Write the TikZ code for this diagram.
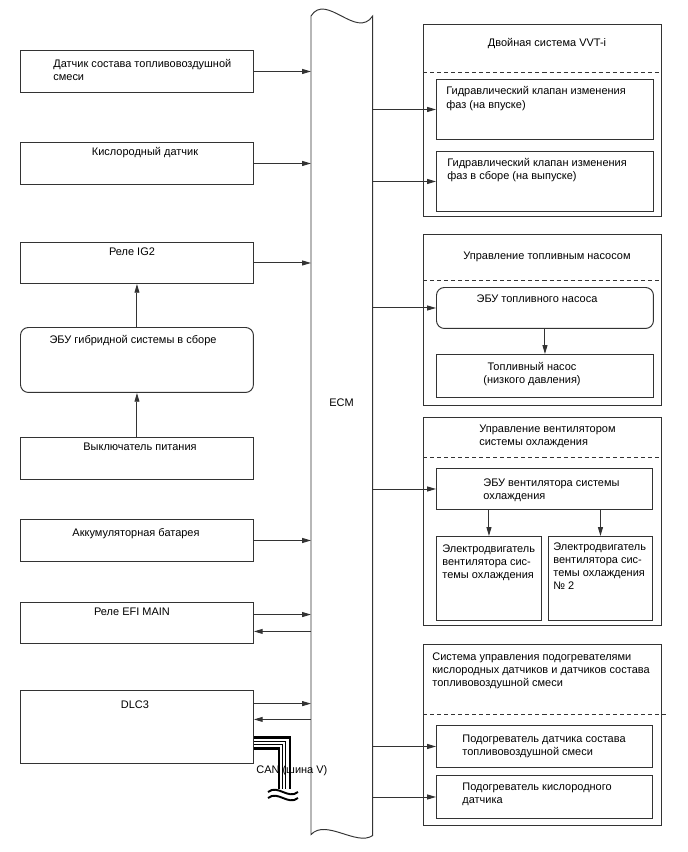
\documentclass[tikz,border=0pt]{standalone}
\usepackage{fontspec}
\setmainfont{Liberation Sans}
\usetikzlibrary{positioning, arrows.meta, calc}

\begin{document}
\begin{tikzpicture}[
    x=0.02cm, y=-0.02cm,
    font=\fontsize{6.25}{7.4}\selectfont,
    line/.style={draw=black!80, line width=0.55pt},
    box/.style={line, rectangle, inner sep=0pt, anchor=north west},
    rbox/.style={box, rounded corners=4.5pt},
    sep/.style={draw=black!80, line width=0.55pt, dash pattern=on 2.3pt off 1.7pt},
    txt/.style={inner sep=0pt, align=left, anchor=base west},
    ctxt/.style={inner sep=0pt, align=center, anchor=base},
    arr/.style={line, -{Triangle[length=5pt, width=2.8pt]}},
    can/.style={draw=black, line width=1.4pt},
    canthin/.style={draw=black, line width=0.55pt},
]
\useasboundingbox (0,0) rectangle (688,852);

% ECM column with wavy ends
\node[inner sep=0pt, minimum width=1.22cm, minimum height=16.36cm, anchor=north west] (ecm) at (311,16) {};
\draw[line] (ecm.north west) .. controls +(15,-24) and +(-16,24) .. (ecm.north east)
    -- ([yshift=-0.02cm]ecm.south east) .. controls +(-16,11) and +(15,-16) .. (ecm.south west) -- cycle;
\node[ctxt] (ecm-t) at (341.5,406) {ECM};

% Inputs on the left
\node[box, minimum width=4.66cm, minimum height=0.84cm] (afs) at (20,50) {};
\node[box, minimum width=4.66cm, minimum height=0.84cm] (o2s) at (20,142) {};
\node[box, minimum width=4.66cm, minimum height=0.82cm] (ig2) at (20,242) {};
\node[rbox, minimum width=4.66cm, minimum height=1.30cm] (hvecu) at (20,327) {};
\node[box, minimum width=4.66cm, minimum height=0.84cm] (pwrsw) at (20,437) {};
\node[box, minimum width=4.66cm, minimum height=0.84cm] (batt) at (20,519) {};
\node[box, minimum width=4.66cm, minimum height=0.82cm] (efi) at (20,602) {};
\node[box, minimum width=4.66cm, minimum height=1.46cm] (dlc) at (20,690) {};

% (multi-line texts are placed by the baseline of their last line)
\node[txt] (afs-t) at (53,80) {Датчик состава топливовоздушной\\смеси};
\node[ctxt] (o2s-t) at (145,155) {Кислородный датчик};
\node[ctxt] (ig2-t) at (132,255) {Реле IG2};
\node[ctxt] (hvecu-t) at (133,343) {ЭБУ гибридной системы в сборе};
\node[ctxt] (pwrsw-t) at (140,450) {Выключатель питания};
\node[ctxt] (batt-t) at (136,536) {Аккумуляторная батарея};
\node[ctxt] (efi-t) at (132,615) {Реле EFI MAIN};
\node[ctxt] (dlc-t) at (135,708) {DLC3};
\node[txt] (can-t) at (256,773) {CAN (шина V)};

% Outputs on the right
\node[box, minimum width=4.76cm, minimum height=3.84cm] (vvt) at (423,24) {};
\node[box, minimum width=4.76cm, minimum height=3.42cm] (fp) at (423,234) {};
\node[box, minimum width=4.76cm, minimum height=4.16cm] (fan) at (423,417) {};
\node[box, minimum width=4.76cm, minimum height=3.62cm] (heat) at (423,644) {};

\draw[sep] (vvt.north west) ++(0,48) -- ++(238,0);
\draw[sep] (fp.north west) ++(0,46) -- ++(238,0);
\draw[sep] (fan.north west) ++(0,40) -- ++(238,0);
\draw[sep] (heat.north west) ++(0,70) -- ++(244,0);

\node[box, minimum width=4.34cm, minimum height=1.20cm] (vvtin) at (436,79) {};
\node[box, minimum width=4.34cm, minimum height=1.20cm] (vvtex) at (436,151) {};
\node[rbox, minimum width=4.34cm, minimum height=0.82cm] (fpecu) at (436,287) {};
\node[box, minimum width=4.34cm, minimum height=0.86cm] (fpump) at (436,354) {};
\node[box, minimum width=4.32cm, minimum height=0.82cm] (fanecu) at (436,468) {};
\node[box, minimum width=2.10cm, minimum height=1.68cm] (motor1) at (436,536) {};
\node[box, minimum width=2.08cm, minimum height=1.68cm] (motor2) at (548,536) {};
\node[box, minimum width=4.32cm, minimum height=0.84cm] (heat1) at (436,725) {};
\node[box, minimum width=4.32cm, minimum height=0.86cm] (heat2) at (436,775) {};

\node[ctxt] (vvt-t) at (547,46) {Двойная система VVT-i};
\node[txt] (vvtin-t) at (446,108) {Гидравлический клапан изменения\\фаз (на впуске)};
\node[txt] (vvtex-t) at (447,179) {Гидравлический клапан изменения\\фаз в сборе (на выпуске)};
\node[ctxt] (fp-t) at (547,259) {Управление топливным насосом};
\node[ctxt] (fpecu-t) at (537,302) {ЭБУ топливного насоса};
\node[ctxt] (fpump-t) at (532,383) {Топливный насос\\(низкого давления)};
\node[txt] (fan-t) at (479,445) {Управление вентилятором\\системы охлаждения};
\node[txt] (fanecu-t) at (483,499) {ЭБУ вентилятора системы\\охлаждения};
\node[txt] (motor1-t) at (442,578) {Электродвигатель\\вентилятора сис-\\темы охлаждения};
\node[txt] (motor2-t) at (553,589) {Электродвигатель\\вентилятора сис-\\темы охлаждения\\№ 2};
\node[txt] (heat-t) at (432,686) {Система управления подогревателями\\кислородных датчиков и датчиков состава\\топливовоздушной смеси};
\node[txt] (heat1-t) at (462,755) {Подогреватель датчика состава\\топливовоздушной смеси};
\node[txt] (heat2-t) at (462,803) {Подогреватель кислородного\\датчика};

% Signals into the ECM
\draw[arr] (afs.east) -- (afs.east -| ecm.west);
\draw[arr] (o2s.east) -- (o2s.east -| ecm.west);
\draw[arr] (ig2.east) -- (ig2.east -| ecm.west);
\draw[arr] (hvecu.north) -- (ig2.south);
\draw[arr] (pwrsw.north) -- (hvecu.south);
\draw[arr] (batt.east) -- (batt.east -| ecm.west);

\coordinate (efiout) at ([yshift=4.8pt]efi.east);
\coordinate (efiin) at ([yshift=-4.8pt]efi.east);
\draw[arr] (efiout) -- (efiout -| ecm.west);
\draw[arr] (efiin -| ecm.west) -- (efiin);

\coordinate (dlcout) at ([yshift=13.3pt]dlc.east);
\coordinate (dlcin) at ([yshift=4.3pt]dlc.east);
\draw[arr] (dlcout) -- (dlcout -| ecm.west);
\draw[arr] (dlcin -| ecm.west) -- (dlcin);

% CAN bus
\coordinate (cana) at ([yshift=-5.9pt]dlc.east);
\coordinate (canb) at ([yshift=-8.2pt]dlc.east);
\coordinate (canc) at ([yshift=-9.9pt]dlc.east);
\coordinate (cand) at ([yshift=-12.2pt]dlc.east);
\draw[can] (cana) -| ++(36,52);
\draw[canthin] (canb) -| ++(32,48);
\draw[canthin] (canc) -| ++(29,45);
\draw[can] (cand) -| ++(25,41);
\draw[can, line width=1.1pt] (268,792) .. controls (278,784) and (288,800) .. (298,792);
\draw[can, line width=1.1pt] (268,798) .. controls (278,790) and (288,806) .. (298,798);

% Signals out of the ECM
\draw[arr] (vvtin.west -| ecm.east) -- (vvtin.west);
\draw[arr] (vvtex.west -| ecm.east) -- (vvtex.west);
\draw[arr] (fpecu.west -| ecm.east) -- (fpecu.west);
\draw[arr] (fpecu.south) -- (fpecu.south |- fpump.north);
\draw[arr] (fanecu.west -| ecm.east) -- (fanecu.west);
\draw[arr] (motor1.north |- fanecu.south) -- (motor1.north);
\draw[arr] (motor2.north |- fanecu.south) -- (motor2.north);
\draw[arr] (heat1.west -| ecm.east) -- (heat1.west);
\draw[arr] (heat2.west -| ecm.east) -- (heat2.west);

\end{tikzpicture}
\end{document}
